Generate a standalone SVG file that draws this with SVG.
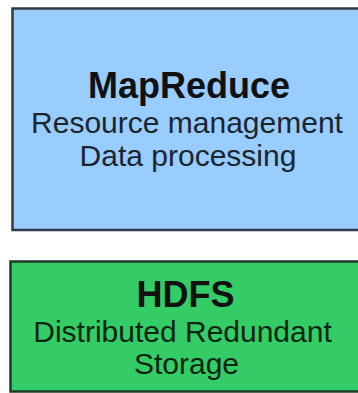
<svg xmlns="http://www.w3.org/2000/svg" width="358" height="393" viewBox="0 0 358 393">
  <style>
    .box { stroke-width: 2.5; }
    .mr { fill: #99ccff; stroke: #2e3b48; }
    .hdfs { fill: #33cc66; stroke: #1f3a27; }
    .title { font-family: "Liberation Sans", Arial, sans-serif; font-weight: bold; font-size: 36px; text-anchor: middle; fill: #111111; }
    .sub { font-family: "Liberation Sans", Arial, sans-serif; font-size: 30px; text-anchor: middle; }
    .mr-t { fill: #1b2530; }
    .hdfs-t { fill: #0d2412; }
  </style>
  <rect width="358" height="393" fill="#ffffff"/>
  <g id="mapreduce">
    <rect class="box mr" x="12.5" y="8.5" width="360" height="221.5"/>
    <text class="title" x="189" y="98">MapReduce</text>
    <text class="sub mr-t" x="187" y="132.5">Resource management</text>
    <text class="sub mr-t" x="188" y="166">Data processing</text>
  </g>
  <g id="hdfs">
    <rect class="box hdfs" x="10.5" y="261.5" width="360" height="130"/>
    <text class="title" x="185.5" y="307">HDFS</text>
    <text class="sub hdfs-t" x="182.5" y="341.5">Distributed Redundant</text>
    <text class="sub hdfs-t" x="186.5" y="373.5">Storage</text>
  </g>
  <g id="connectors"/>
</svg>
